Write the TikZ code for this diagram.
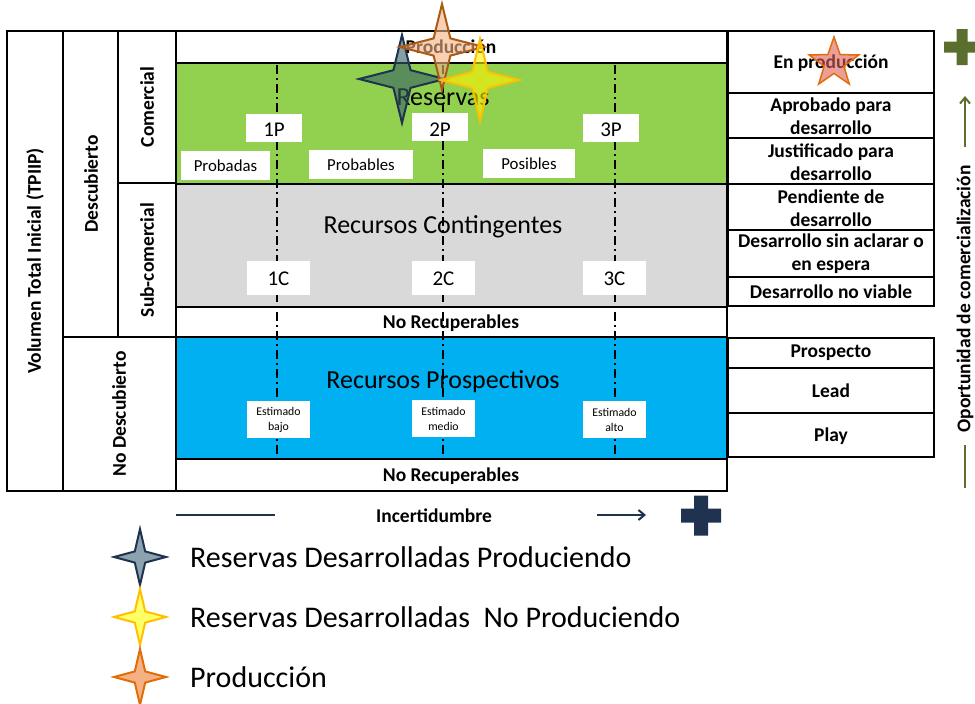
\documentclass[tikz,border=0pt]{standalone}
\usepackage{fontspec}
\setmainfont{Carlito}
\usetikzlibrary{shapes.geometric,arrows.meta}
\definecolor{resgreen}{HTML}{92D050}
\definecolor{contgray}{HTML}{D9D9D9}
\definecolor{prosblue}{HTML}{00B0F0}
\definecolor{navyc}{HTML}{1F3250}
\definecolor{navyfill}{HTML}{8CA2AE}
\definecolor{olivec}{HTML}{5A6E2E}
\definecolor{orstroke}{HTML}{E36C0A}
\definecolor{orfill}{HTML}{F4B183}
\definecolor{ylstroke}{HTML}{FFC000}
\definecolor{ylfill}{HTML}{FFFF66}
\newcommand{\fourpt}[5]{\path[#5] (#1,{#2-#4}) -- ({#1+0.2*#3},{#2-0.2*#4}) -- ({#1+#3},#2) -- ({#1+0.2*#3},{#2+0.2*#4}) -- (#1,{#2+#4}) -- ({#1-0.2*#3},{#2+0.2*#4}) -- ({#1-#3},#2) -- ({#1-0.2*#3},{#2-0.2*#4}) -- cycle;}
\newcommand{\plusshape}[5]{\path[#5] ({#1-#4},{#2-#3}) -- ({#1+#4},{#2-#3}) -- ({#1+#4},{#2-#4}) -- ({#1+#3},{#2-#4}) -- ({#1+#3},{#2+#4}) -- ({#1+#4},{#2+#4}) -- ({#1+#4},{#2+#3}) -- ({#1-#4},{#2+#3}) -- ({#1-#4},{#2+#4}) -- ({#1-#3},{#2+#4}) -- ({#1-#3},{#2-#4}) -- ({#1-#4},{#2-#4}) -- cycle;}
\tikzset{
  cell/.style={draw=black, line width=2.5pt},
  bl/.style={font=\fontsize{19.5}{23}\selectfont\bfseries, align=center, inner sep=0pt},
  big/.style={font=\fontsize{26}{30}\selectfont, inner sep=0pt},
  tag/.style={font=\fontsize{21}{24}\selectfont, inner sep=0pt},
  small/.style={font=\fontsize{16.8}{19}\selectfont, inner sep=0pt},
  tiny/.style={font=\fontsize{11.8}{15}\selectfont, align=center, inner sep=0pt},
  wbox/.style={fill=white, draw=none},
  vtxt/.style={font=\fontsize{19.5}{22}\selectfont\bfseries, rotate=90, inner sep=0pt},
  divline/.style={draw=black, line width=2pt, dash pattern=on 9pt off 4pt on 2pt off 4pt},
  legtxt/.style={font=\fontsize{30}{34}\selectfont, anchor=west, inner sep=0pt}
}
\begin{document}
\begin{tikzpicture}[x=1pt,y=-1pt]
\useasboundingbox (0,0) rectangle (975,704);
% left columns
\draw[cell] (7,31) rectangle (63,491);
\draw[cell] (63,31) rectangle (118,337);
\draw[cell] (63,337) rectangle (176,491);
\draw[cell] (118,31) rectangle (176,183);
\draw[cell] (118,183) rectangle (176,337);
\node[vtxt] (vol) at (35,261) {Volumen Total Inicial (TPIIP)};
\node[vtxt] (desc) at (91,184) {Descubierto};
\node[vtxt] (com) at (147,107) {Comercial};
\node[vtxt] (subcom) at (147,260) {Sub-comercial};
\node[vtxt] (nodesc) at (119,414) {No Descubierto};
% main rows
\draw[cell, fill=white] (176,31) rectangle (727,63);
\draw[cell, fill=resgreen] (176,63) rectangle (727,184);
\draw[cell, fill=contgray] (176,184) rectangle (727,307);
\draw[cell, fill=white] (176,307) rectangle (727,337);
\draw[cell, fill=prosblue] (176,337) rectangle (727,459);
\draw[cell, fill=white] (176,459) rectangle (727,491);
% dash-dot dividers
\coordinate (d1t) at (277,65); \coordinate (d1b) at (277,457);
\coordinate (d2t) at (443,65); \coordinate (d2b) at (443,457);
\coordinate (d3t) at (615,65); \coordinate (d3b) at (615,457);
\draw[divline] (d1t) -- (d1b);
\draw[divline] (d2t) -- (d2b);
\draw[divline] (d3t) -- (d3b);
% row texts
\node[bl] (prod) at (451,47) {Producción};
\node[big] (reservas) at (443,97) {Reservas};
\node[big] (contin) at (443,227) {Recursos Contingentes};
\node[bl] (norec1) at (451,323) {No Recuperables};
\node[big] (prospec) at (443,382) {Recursos Prospectivos};
\node[bl] (norec2) at (451,476) {No Recuperables};
% label boxes
\path[wbox] (246,114) rectangle (302,142); \node[tag] (p1) at (274,130) {1P};
\path[wbox] (412,113) rectangle (468,141); \node[tag] (p2) at (440,130) {2P};
\path[wbox] (583,114) rectangle (639,142); \node[tag] (p3) at (611,130) {3P};
\path[wbox] (181,151) rectangle (270,180); \node[small] (probadas) at (225.5,166) {Probadas};
\path[wbox] (309,150) rectangle (413,179); \node[small] (probables) at (361,165) {Probables};
\path[wbox] (483,149) rectangle (575,178); \node[small] (posibles) at (529,164) {Posibles};
\path[wbox] (247,261) rectangle (310,295); \node[tag] (c1) at (278.5,279) {1C};
\path[wbox] (412,261) rectangle (475,295); \node[tag] (c2) at (443.5,279) {2C};
\path[wbox] (583,261) rectangle (646,295); \node[tag] (c3) at (614.5,279) {3C};
\path[wbox] (247,401) rectangle (310,438); \node[tiny] (eb) at (278.5,420) {Estimado\\bajo};
\path[wbox] (412,400) rectangle (475,437); \node[tiny] (em) at (443.5,419) {Estimado\\medio};
\path[wbox] (583,401) rectangle (646,438); \node[tiny] (ea) at (614.5,420) {Estimado\\alto};
% right column
\draw[cell] (728,31) rectangle (934,93);
\draw[cell] (728,93) rectangle (934,138);
\draw[cell] (728,138) rectangle (934,184);
\draw[cell] (728,184) rectangle (934,230);
\draw[cell] (728,230) rectangle (934,277);
\draw[cell] (728,277) rectangle (934,306);
\draw[cell] (728,338) rectangle (934,368);
\draw[cell] (728,368) rectangle (934,413);
\draw[cell] (728,413) rectangle (934,457);
\node[bl] (enprod) at (831,63) {En producción};
\node[bl] (aprob) at (831,116) {Aprobado para\\desarrollo};
\node[bl] (justif) at (831,162) {Justificado para\\desarrollo};
\node[bl] (pend) at (831,208) {Pendiente de\\desarrollo};
\node[bl] (sinacl) at (831,254) {Desarrollo sin aclarar o\\en espera};
\node[bl] (noviab) at (831,292) {Desarrollo no viable};
\node[bl] (prospecto) at (831,353) {Prospecto};
\node[bl] (lead) at (831,391) {Lead};
\node[bl] (play) at (831,436) {Play};
\node[star, star points=5, star point ratio=2.5, minimum size=52pt, inner sep=0pt, fill={rgb,255:red,222;green,95;blue,85}, fill opacity=0.6, draw=orstroke, line width=1.5pt] (enstar) at (834,63) {};
% opportunity axis
\plusshape{962}{47}{18}{5.5}{fill=olivec}
\coordinate (ga1) at (965,147); \coordinate (ga2) at (965,96);
\draw[olivec, line width=2pt, -{Straight Barb[length=6pt,width=10pt]}] (ga1) -- (ga2);
\node[vtxt] (oport) at (965,299) {Oportunidad de comercialización};
\coordinate (gl1) at (965,445); \coordinate (gl2) at (965,488);
\draw[olivec, line width=2pt] (gl1) -- (gl2);
% uncertainty axis
\coordinate (ul1) at (176,515); \coordinate (ul2) at (275,515);
\draw[navyc, line width=2pt] (ul1) -- (ul2);
\node[bl] (incert) at (434,516) {Incertidumbre};
\coordinate (ua1) at (597,515); \coordinate (ua2) at (646,515);
\draw[navyc, line width=2pt, -{Straight Barb[length=6pt,width=10pt]}] (ua1) -- (ua2);
\plusshape{701}{515.5}{20}{7}{fill=navyc}
% top stars
\fourpt{402}{79}{43}{44}{fill={rgb,255:red,53;green,95;blue,100}, fill opacity=0.6, draw=navyc, line width=2pt}
\fourpt{442}{47}{42}{43}{fill=orfill, fill opacity=0.6, draw={rgb,255:red,170;green,90;blue,20}, line width=2pt}
\fourpt{480}{80}{39}{41}{fill=yellow, fill opacity=0.6, draw=ylstroke, line width=2pt}
% legend
\fourpt{140}{557}{26}{28}{fill=navyfill, draw=navyc, line width=2pt}
\fourpt{140}{617}{26}{28}{fill=ylfill, draw=ylstroke, line width=2pt}
\fourpt{140}{677}{26}{28}{fill=orfill, draw=orstroke, line width=2pt}
\node[legtxt] (leg1) at (190,557) {Reservas Desarrolladas Produciendo};
\node[legtxt] (leg2) at (190,617) {Reservas Desarrolladas\ \ No Produciendo};
\node[legtxt] (leg3) at (190,677) {Producción};
\end{tikzpicture}
\end{document}
